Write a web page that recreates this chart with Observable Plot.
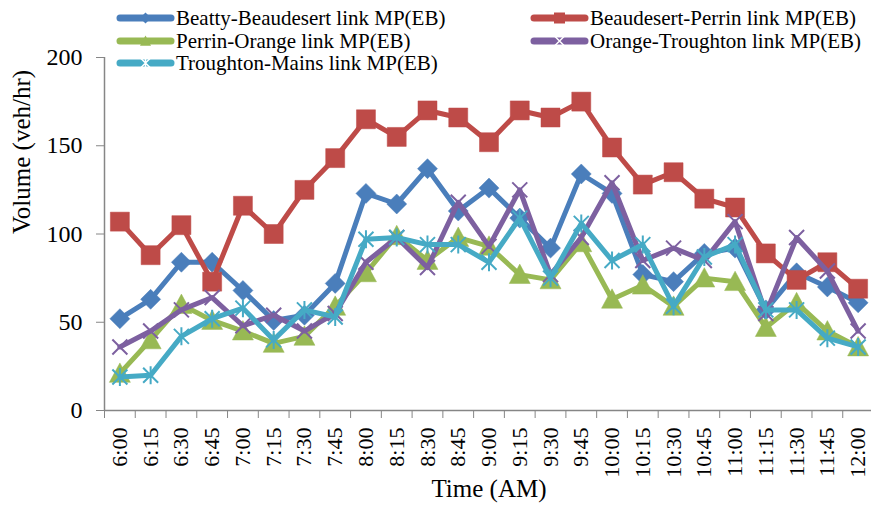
<!DOCTYPE html>
<html>
<head>
<meta charset="utf-8">
<script src="https://cdn.jsdelivr.net/npm/d3@7"></script>
<script src="https://cdn.jsdelivr.net/npm/@observablehq/plot@0.6"></script>
<style>
  html, body { margin: 0; padding: 0; background: #fff; }
  #wrap { position: relative; width: 871px; height: 514px; overflow: hidden; }
  #legend { position: absolute; left: 0; top: 0; pointer-events: none; }
  #wrap svg, #wrap svg text { font-family: "Liberation Serif", "Times New Roman", Tinos, "Noto Serif", "DejaVu Serif", FreeSerif, "Nimbus Roman", serif !important; }
</style>
</head>
<body>
<div id="wrap"></div>
<script>
const times = ["6:00","6:15","6:30","6:45","7:00","7:15","7:30","7:45","8:00","8:15","8:30","8:45",
  "9:00","9:15","9:30","9:45","10:00","10:15","10:30","10:45","11:00","11:15","11:30","11:45","12:00"];
const beattyBeaudesert = [52,63,84,84,68,51,54,72,123,117,137,113,126,109,92,134,123,77,73,89,92,57,78,70,61];
const beaudesertPerrin = [107,88,105,73,116,100,125,143,165,155,170,166,152,170,166,175,149,128,135,120,115,89,74,84,69];
const perrinOrange = [21,40,60,51,45,38,42,59,78,99,85,98,93,77,74,95,63,71,59,75,73,47,61,45,36];
const orangeTroughton = [36,45,57,64,48,54,45,55,84,98,81,118,93,125,77,98,129,85,92,85,107,55,98,79,45];
const troughtonMains = [19,20,42,52,58,40,57,53,97,98,94,94,84,109,75,106,85,94,59,87,94,57,57,41,36];
const seriesNames = ["Beatty-Beaudesert link MP(EB)","Beaudesert-Perrin link MP(EB)","Perrin-Orange link MP(EB)",
  "Orange-Troughton link MP(EB)","Troughton-Mains link MP(EB)"];
const yTicks = [0,50,100,150,200];

const seriesValues = [beattyBeaudesert, beaudesertPerrin, perrinOrange, orangeTroughton, troughtonMains];
const colors = ["#4A7EBB","#BE4B48","#98B954","#7D60A0","#46AAC5"];

// custom marker shapes (Excel-like)
const rad = s => Math.sqrt(s / Math.PI);
const symDiamond = {draw(c, s){ const r = rad(s); c.moveTo(0,-r); c.lineTo(r,0); c.lineTo(0,r); c.lineTo(-r,0); c.closePath(); }};
const symSquare = {draw(c, s){ const r = rad(s); c.moveTo(-r,-r); c.lineTo(r,-r); c.lineTo(r,r); c.lineTo(-r,r); c.closePath(); }};
const symTriangle = {draw(c, s){ const r = rad(s); c.moveTo(0,-r); c.lineTo(r,r*0.85); c.lineTo(-r,r*0.85); c.closePath(); }};
const symTimes = {draw(c, s){ const r = rad(s); c.moveTo(-r,-r); c.lineTo(r,r); c.moveTo(r,-r); c.lineTo(-r,r); }};
const symAsterisk = {draw(c, s){ const r = rad(s); c.moveTo(-r,-r); c.lineTo(r,r); c.moveTo(r,-r); c.lineTo(-r,r); c.moveTo(0,-r*1.2); c.lineTo(0,r*1.2); }};
const symbols = [symDiamond, symSquare, symTriangle, symTimes, symAsterisk];
const filled = [true, true, true, false, false];
const markerR = [10, 9.5, 10.5, 7.5, 7.5];

const gray = "#868686";
const font = "'Liberation Serif', 'Times New Roman', serif";

const marks = [
  Plot.ruleY([0], {stroke: gray, strokeWidth: 1.5}),
  Plot.ruleX([-0.5], {stroke: gray, strokeWidth: 1.5}),
  Plot.axisY({ticks: yTicks, tickSize: 8, tickPadding: 14, stroke: gray, fill: "black", fontSize: 24, label: null, tickFormat: d => String(d)}),
  Plot.axisX({ticks: d3.range(-0.5, 25, 1), tickSize: 8, stroke: gray, tickFormat: () => "", label: null}),
  Plot.axisX({ticks: d3.range(times.length), tickSize: 0, tickPadding: 17, tickRotate: -90, fill: "black", fontSize: 22, label: null, tickFormat: i => times[i]}),
  Plot.text(["Volume (veh/hr)"], {frameAnchor: "left", dx: -83, rotate: -90, fontSize: 25, fill: "black"}),
  Plot.text(["Time (AM)"], {frameAnchor: "bottom", dy: 86, fontSize: 25, fill: "black"})
];

seriesValues.forEach((vals, k) => {
  const data = vals.map((v, i) => ({i, v}));
  marks.push(Plot.line(data, {x: "i", y: "v", stroke: colors[k], strokeWidth: 5, strokeLinejoin: "round", strokeLinecap: "round"}));
  marks.push(Plot.dot(data, {x: "i", y: "v", symbol: symbols[k], r: markerR[k],
    fill: filled[k] ? colors[k] : "none", stroke: colors[k], strokeWidth: filled[k] ? 0.5 : 2}));
});

const chart = Plot.plot({
  width: 871,
  height: 514,
  marginTop: 57,
  marginBottom: 104,
  marginLeft: 104,
  marginRight: -2,
  style: {fontFamily: font, background: "white", overflow: "visible"},
  x: {type: "linear", domain: [-0.5, times.length - 0.5]},
  y: {domain: [0, 200]},
  marks
});
document.getElementById("wrap").appendChild(chart);

// legend overlay
const legendPos = [
  {x: 117, y: 18}, {x: 531, y: 18},
  {x: 117, y: 41}, {x: 531, y: 41},
  {x: 117, y: 63}
];
const svg = d3.select("#wrap").append("svg").attr("id", "legend").attr("width", 871).attr("height", 80);
seriesNames.forEach((name, k) => {
  const p = legendPos[k];
  const g = svg.append("g").attr("transform", `translate(${p.x},${p.y})`);
  g.append("line").attr("x1", 3).attr("x2", 54).attr("y1", 0).attr("y2", 0)
    .attr("stroke", colors[k]).attr("stroke-width", 7).attr("stroke-linecap", "round");
  const r = filled[k] ? 5.5 : 4.5;
  g.append("path").attr("transform", "translate(28.5,0)")
    .attr("d", d3.symbol(symbols[k], r * r * Math.PI)())
    .attr("fill", filled[k] ? colors[k] : "none")
    .attr("stroke", filled[k] ? "none" : "#ffffff").attr("stroke-width", 1.5);
  g.append("text").attr("x", 59).attr("y", 0).attr("dy", "0.35em")
    .attr("font-size", 21).attr("fill", "black").text(name);
});
</script>
</body>
</html>
